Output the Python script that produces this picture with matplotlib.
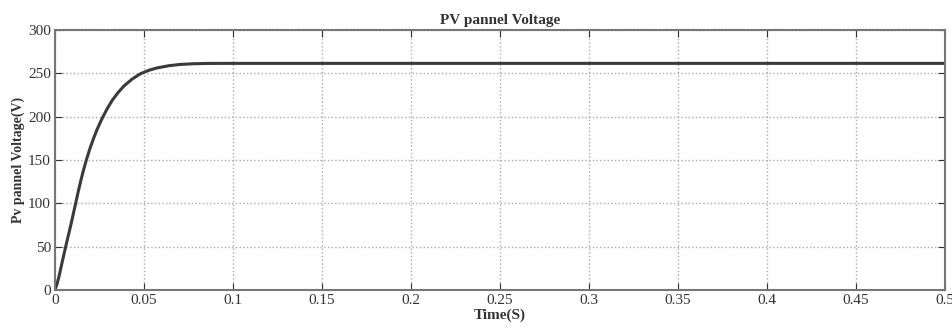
import numpy as np
import matplotlib
matplotlib.use('Agg')
import matplotlib.pyplot as plt

# PV panel voltage
time_s = [0, 0.001, 0.002, 0.003, 0.004, 0.005, 0.006, 0.0075, 0.009, 0.0103, 0.0116,
          0.0131, 0.0146, 0.0161, 0.0176, 0.0195, 0.0215, 0.0234, 0.025, 0.0266,
          0.0294, 0.0322, 0.0355, 0.0388, 0.0434, 0.048, 0.0527, 0.0574, 0.064,
          0.07, 0.077, 0.085, 0.095, 0.2, 0.3, 0.4, 0.5]
voltage = [0, 6, 13.5, 22.5, 32, 41, 50, 63, 76, 88, 100,
           114, 127, 139, 150, 162.5, 174, 184, 191.5, 198.5,
           209.5, 219, 228, 235.5, 243.5, 249.5, 253.5, 256.3, 258.8,
           260.2, 261, 261.4, 261.5, 261.5, 261.5, 261.5, 261.5]

x_ticks = [0, 0.05, 0.1, 0.15, 0.2, 0.25, 0.3, 0.35, 0.4, 0.45, 0.5]
x_tick_labels = ['0', '0.05', '0.1', '0.15', '0.2', '0.25', '0.3', '0.35', '0.4', '0.45', '0.5']
y_ticks = [0, 50, 100, 150, 200, 250, 300]

plt.rcParams['font.family'] = ['Liberation Serif', 'DejaVu Serif']

fig = plt.figure(figsize=(9.53, 3.32), dpi=100)
ax = fig.add_axes([55 / 953, 1 - 290 / 332, 890 / 953, 260 / 332])

ax.plot(time_s, voltage, color='#3a3a3a', linewidth=2.2)

ax.set_xlim(0, 0.5)
ax.set_ylim(0, 300)
ax.set_xticks(x_ticks)
ax.set_xticklabels(x_tick_labels)
ax.set_yticks(y_ticks)
ax.tick_params(direction='in', length=5, labelsize=11, colors='#333333', pad=3,
               top=True, right=True)
ax.grid(True, linestyle=':', color='#aaaaaa', linewidth=1)
for s in ax.spines.values():
    s.set_color('#777777')
    s.set_linewidth(1.5)

ax.set_title('PV pannel Voltage', fontsize=11, fontweight='bold', color='#333333', pad=4)
ax.set_xlabel('Time(S)', fontsize=11, fontweight='bold', color='#333333', labelpad=1)
ax.set_ylabel('Pv pannel Voltage(V)', fontsize=10, fontweight='bold', color='#333333', labelpad=2)

fig.savefig('out.png', dpi=100)
